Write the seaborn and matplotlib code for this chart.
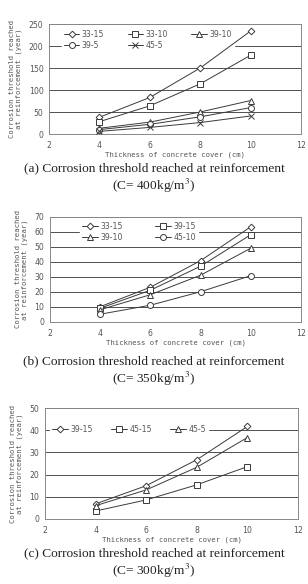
import matplotlib
matplotlib.use("Agg")
import matplotlib.pyplot as plt
import seaborn as sns
import pandas as pd
import math

# ---- data ----
cover = [4, 6, 8, 10]

a_names = ["33-15", "33-10", "39-10", "39-5", "45-5"]
a_33_15 = [38, 83, 150, 234]
a_33_10 = [28, 64, 114, 179]
a_39_10 = [13, 27, 50, 76]
a_39_5 = [10, 22, 39, 60]
a_45_5 = [6, 15, 26, 41]
a_markers = ["D", "s", "^", "o", "x"]

b_names = ["33-15", "39-15", "39-10", "45-10"]
b_33_15 = [10, 23, 40.7, 63.3]
b_39_15 = [9, 21, 37, 58]
b_39_10 = [8, 18, 31, 49]
b_45_10 = [5, 11, 20, 30.7]
b_markers = ["D", "s", "^", "o"]

c_names = ["39-15", "45-15", "45-5"]
c_39_15 = [6.8, 15, 26.7, 41.7]
c_45_15 = [3.6, 8.6, 15.4, 23.6]
c_45_5 = [6, 13.1, 23.3, 36.7]
c_markers = ["D", "s", "^"]

x_ticks = [2, 4, 6, 8, 10, 12]
x_label = "Thickness of concrete cover (cm)"
y_label = "Corrosion threshold reached\nat reinforcement (year)"
captions = [
    "(a) Corrosion threshold reached at reinforcement\n(C= 400kg/m$^3$)",
    "(b) Corrosion threshold reached at reinforcement\n(C= 350kg/m$^3$)",
    "(c) Corrosion threshold reached at reinforcement\n(C= 300kg/m$^3$)",
]

sns.set_theme(style="white")
plt.rcParams["font.family"] = ["DejaVu Sans"]
plt.rcParams["mathtext.fontset"] = "stix"

fig = plt.figure(figsize=(3.08, 5.84), dpi=100)

panels = [
    dict(rect=[49/308, 1-134/584, 252/308, 110/584], names=a_names,
         vals=[a_33_15, a_33_10, a_39_10, a_39_5, a_45_5], markers=a_markers,
         ymax=250, ystep=50, ncol=3, leg_anchor=(0.05, 0.97), colsp=3.0,
         cap_y=1-162/584),
    dict(rect=[50/308, 1-321.7/584, 251/308, 105/584], names=b_names,
         vals=[b_33_15, b_39_15, b_39_10, b_45_10], markers=b_markers,
         ymax=70, ystep=10, ncol=2, leg_anchor=(0.12, 0.97), colsp=4.2,
         cap_y=1-355/584),
    dict(rect=[45/308, 1-519/584, 253/308, 111/584], names=c_names,
         vals=[c_39_15, c_45_15, c_45_5], markers=c_markers,
         ymax=50, ystep=10, ncol=3, leg_anchor=(0.02, 0.87), colsp=2.4,
         cap_y=1-547/584),
]

line_col = "#3a3a3a"
txt_col = "#555555"


def row_major(items, ncol):
    n = len(items)
    nrow = math.ceil(n / ncol)
    out = []
    for c in range(ncol):
        for r in range(nrow):
            k = r * ncol + c
            if k < n:
                out.append(items[k])
    return out


for i, p in enumerate(panels):
    ax = fig.add_axes(p["rect"])
    for name, vals, mk in zip(p["names"], p["vals"], p["markers"]):
        df = pd.DataFrame({"x": cover, "y": vals})
        ms = 3.4 if mk == "D" else 4.3
        sns.lineplot(data=df, x="x", y="y", ax=ax, color=line_col, lw=0.7,
                     marker=mk, markersize=ms, markerfacecolor="white",
                     markeredgecolor=line_col, markeredgewidth=0.7,
                     label=name, zorder=3)
    ax.set_xlim(2, 12)
    ax.set_ylim(0, p["ymax"])
    ax.set_xticks(x_ticks)
    ax.set_yticks(list(range(0, p["ymax"] + 1, p["ystep"])))
    ax.grid(axis="y", color="#333333", lw=0.6)
    ax.set_axisbelow(True)
    for s in ax.spines.values():
        s.set_color("#888888")
        s.set_linewidth(0.7)
    ax.tick_params(axis="both", labelsize=5.6, labelcolor=txt_col, length=2,
                   width=0.6, color="#888888", pad=2)
    ax.tick_params(axis="x", direction="in", pad=5)
    ax.tick_params(axis="y", direction="out")
    ax.set_xlabel(x_label, family="DejaVu Sans Mono", fontsize=5.2,
                  color=txt_col, labelpad=1)
    ax.set_ylabel(y_label, family="DejaVu Sans Mono", fontsize=5.2,
                  color=txt_col, labelpad=5, linespacing=1.1)
    handles, labels = ax.get_legend_handles_labels()
    pairs = row_major(list(zip(handles, labels)), p["ncol"])
    leg = ax.legend([h for h, _ in pairs], [l for _, l in pairs],
                    loc="upper left", bbox_to_anchor=p["leg_anchor"],
                    ncol=p["ncol"], fontsize=5.6, frameon=True,
                    handlelength=2.0, handletextpad=0.3,
                    columnspacing=p["colsp"], labelspacing=0.25,
                    borderpad=0.3, borderaxespad=0)
    leg.get_frame().set_facecolor("white")
    leg.get_frame().set_edgecolor("white")
    leg.get_frame().set_alpha(1)
    leg.set_zorder(1.5)
    for t in leg.get_texts():
        t.set_color(txt_col)
    fig.text(0.5, p["cap_y"], captions[i], ha="center", va="top",
             family="Liberation Serif", fontsize=9.6, color="#222222",
             linespacing=1.2)

fig.savefig("out.png", dpi=100)
